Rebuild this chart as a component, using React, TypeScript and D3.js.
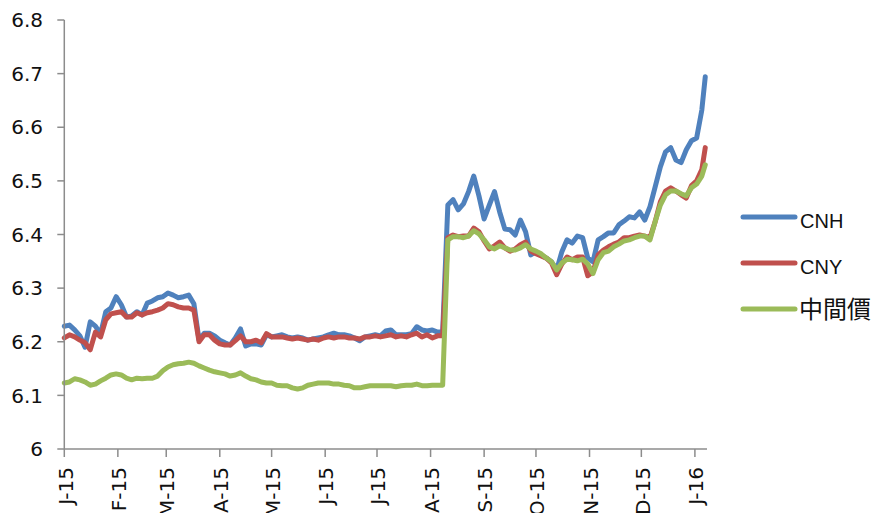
import * as d3 from 'd3';

const dates = [
  '2015-01-01', '2015-01-04', '2015-01-07', '2015-01-10', '2015-01-13', '2015-01-16', '2015-01-19', '2015-01-22',
  '2015-01-25', '2015-01-28', '2015-01-31', '2015-02-03', '2015-02-06', '2015-02-09', '2015-02-12', '2015-02-15',
  '2015-02-18', '2015-02-21', '2015-02-24', '2015-02-27', '2015-03-02', '2015-03-05', '2015-03-08', '2015-03-11',
  '2015-03-14', '2015-03-17', '2015-03-20', '2015-03-23', '2015-03-26', '2015-03-29', '2015-04-01', '2015-04-04',
  '2015-04-07', '2015-04-10', '2015-04-13', '2015-04-16', '2015-04-19', '2015-04-22', '2015-04-25', '2015-04-28',
  '2015-05-01', '2015-05-04', '2015-05-07', '2015-05-10', '2015-05-13', '2015-05-16', '2015-05-19', '2015-05-22',
  '2015-05-25', '2015-05-28', '2015-05-31', '2015-06-03', '2015-06-06', '2015-06-09', '2015-06-12', '2015-06-15',
  '2015-06-18', '2015-06-21', '2015-06-24', '2015-06-27', '2015-06-30', '2015-07-03', '2015-07-06', '2015-07-09',
  '2015-07-12', '2015-07-15', '2015-07-18', '2015-07-21', '2015-07-24', '2015-07-27', '2015-07-30', '2015-08-02',
  '2015-08-05', '2015-08-08', '2015-08-11', '2015-08-14', '2015-08-17', '2015-08-20', '2015-08-23', '2015-08-26',
  '2015-08-29', '2015-09-01', '2015-09-04', '2015-09-07', '2015-09-10', '2015-09-13', '2015-09-16', '2015-09-19',
  '2015-09-22', '2015-09-25', '2015-09-28', '2015-10-01', '2015-10-04', '2015-10-07', '2015-10-10', '2015-10-13',
  '2015-10-16', '2015-10-19', '2015-10-22', '2015-10-25', '2015-10-28', '2015-10-31', '2015-11-03', '2015-11-06',
  '2015-11-09', '2015-11-12', '2015-11-15', '2015-11-18', '2015-11-21', '2015-11-24', '2015-11-27', '2015-11-30',
  '2015-12-03', '2015-12-06', '2015-12-09', '2015-12-12', '2015-12-15', '2015-12-18', '2015-12-21', '2015-12-24',
  '2015-12-27', '2015-12-30', '2016-01-02', '2016-01-05', '2016-01-07',
];

const cnh = [
  6.229, 6.231, 6.222, 6.211, 6.190, 6.237, 6.229, 6.215, 6.256, 6.263, 6.284, 6.269, 6.246, 6.248, 6.256, 6.250,
  6.272, 6.276, 6.282, 6.284, 6.291, 6.287, 6.282, 6.284, 6.287, 6.271, 6.203, 6.216, 6.216, 6.211, 6.203, 6.198,
  6.194, 6.207, 6.224, 6.192, 6.196, 6.196, 6.194, 6.213, 6.209, 6.211, 6.213, 6.209, 6.207, 6.209, 6.207, 6.203,
  6.205, 6.207, 6.209, 6.213, 6.216, 6.213, 6.213, 6.211, 6.207, 6.202, 6.209, 6.211, 6.213, 6.211, 6.220, 6.222,
  6.213, 6.213, 6.213, 6.215, 6.228, 6.222, 6.220, 6.222, 6.218, 6.218,
  6.455, 6.465, 6.446, 6.457, 6.480, 6.509, 6.472, 6.429, 6.455, 6.480, 6.442, 6.410, 6.409, 6.399, 6.427, 6.405,
  6.362, 6.368, 6.362, 6.356, 6.349, 6.334, 6.368, 6.390, 6.384, 6.397, 6.394, 6.356, 6.349, 6.390, 6.396, 6.403,
  6.403, 6.418, 6.425, 6.433, 6.431, 6.442, 6.427, 6.452, 6.489, 6.526, 6.554, 6.562, 6.539, 6.534, 6.558, 6.575,
  6.580, 6.632, 6.694,
];

const cny = [
  6.207, 6.213, 6.209, 6.203, 6.198, 6.185, 6.218, 6.209, 6.241, 6.252, 6.254, 6.256, 6.246, 6.246, 6.254, 6.250,
  6.254, 6.256, 6.259, 6.263, 6.271, 6.269, 6.265, 6.263, 6.263, 6.259, 6.200, 6.213, 6.213, 6.203, 6.196, 6.194,
  6.194, 6.202, 6.211, 6.200, 6.200, 6.203, 6.198, 6.215, 6.209, 6.209, 6.209, 6.207, 6.205, 6.207, 6.205, 6.203,
  6.205, 6.203, 6.207, 6.209, 6.207, 6.209, 6.209, 6.207, 6.207, 6.205, 6.209, 6.209, 6.211, 6.209, 6.211, 6.213,
  6.209, 6.211, 6.209, 6.213, 6.216, 6.209, 6.213, 6.207, 6.211, 6.211,
  6.394, 6.399, 6.396, 6.397, 6.397, 6.412, 6.405, 6.388, 6.373, 6.379, 6.386, 6.375, 6.369, 6.373, 6.381, 6.386,
  6.369, 6.364, 6.360, 6.356, 6.347, 6.325, 6.345, 6.358, 6.353, 6.358, 6.358, 6.323, 6.330, 6.362, 6.371, 6.377,
  6.382, 6.386, 6.394, 6.394, 6.397, 6.399, 6.397, 6.394, 6.424, 6.461, 6.481, 6.487, 6.481, 6.474, 6.468, 6.491,
  6.500, 6.521, 6.562,
];

const fixing = [
  6.123, 6.125, 6.131, 6.129, 6.125, 6.119, 6.121, 6.127, 6.132, 6.138, 6.140, 6.138, 6.132, 6.129, 6.132, 6.131,
  6.132, 6.132, 6.136, 6.146, 6.153, 6.157, 6.159, 6.160, 6.162, 6.160, 6.155, 6.151, 6.147, 6.144, 6.142, 6.140,
  6.136, 6.138, 6.142, 6.136, 6.131, 6.129, 6.125, 6.123, 6.123, 6.119, 6.118, 6.118, 6.114, 6.112, 6.114, 6.119,
  6.121, 6.123, 6.123, 6.123, 6.121, 6.121, 6.119, 6.118, 6.114, 6.114, 6.116, 6.118, 6.118, 6.118, 6.118, 6.118,
  6.116, 6.118, 6.119, 6.119, 6.121, 6.118, 6.118, 6.119, 6.119, 6.119,
  6.390, 6.396, 6.396, 6.394, 6.397, 6.407, 6.401, 6.390, 6.377, 6.373, 6.379, 6.375, 6.371, 6.371, 6.375, 6.381,
  6.373, 6.369, 6.364, 6.356, 6.349, 6.334, 6.347, 6.354, 6.353, 6.351, 6.354, 6.345, 6.327, 6.353, 6.366, 6.369,
  6.377, 6.382, 6.388, 6.390, 6.394, 6.397, 6.397, 6.390, 6.424, 6.455, 6.474, 6.481, 6.481, 6.476, 6.472, 6.487,
  6.494, 6.509, 6.530,
];

const monthTicks = [
  '2015-01-01', '2015-02-01', '2015-03-01', '2015-04-01', '2015-05-01', '2015-06-01', '2015-07-01',
  '2015-08-01', '2015-09-01', '2015-10-01', '2015-11-01', '2015-12-01', '2016-01-01',
];
const monthLabels = ['J-15', 'F-15', 'M-15', 'A-15', 'M-15', 'J-15', 'J-15', 'A-15', 'S-15', 'O-15', 'N-15', 'D-15', 'J-16'];
const yTicks = [6, 6.1, 6.2, 6.3, 6.4, 6.5, 6.6, 6.7, 6.8];

const seriesNames = ['CNH', 'CNY', '中間價'];
const seriesColors = ['#4F81BD', '#C0504D', '#9BBB59'];

const parse = d3.timeParse('%Y-%m-%d');

export default function App() {
  const width = 875;
  const height = 513;
  const axisColor = '#8c8c8c';

  const x = d3.scaleTime()
    .domain([parse('2015-01-01'), parse('2016-01-08')])
    .range([64.3, 707]);
  const y = d3.scaleLinear().domain([6, 6.8]).range([449, 20]);

  const parsedDates = dates.map((d) => parse(d));
  const allSeries = [cnh, cny, fixing];

  const line = d3.line<number>()
    .x((_, i) => x(parsedDates[i]))
    .y((v) => y(v));

  const legendY = [217, 263, 309];

  return (
    <svg
      width={width}
      height={height}
      style={{ position: 'absolute', left: 0, top: 0, background: '#fff' }}
      fontFamily="DejaVu Sans, Verdana, sans-serif"
    >
      {/* series */}
      {allSeries.map((s, i) => (
        <path
          key={seriesNames[i]}
          d={line(s) || ''}
          fill="none"
          stroke={seriesColors[i]}
          strokeWidth={5}
          strokeLinejoin="round"
          strokeLinecap="round"
        />
      ))}

      {/* y axis */}
      <line x1={x.range()[0]} x2={x.range()[0]} y1={y(6.8)} y2={y(6)} stroke={axisColor} strokeWidth={1.5} />
      {yTicks.map((t) => (
        <g key={t}>
          <line x1={x.range()[0] - 7} x2={x.range()[0]} y1={y(t)} y2={y(t)} stroke={axisColor} strokeWidth={1.5} />
          <text x={43} y={y(t)} dy="0.36em" textAnchor="end" fontSize={20} fill="#111">
            {t === 6 ? '6' : t.toFixed(1)}
          </text>
        </g>
      ))}

      {/* x axis */}
      <line x1={x.range()[0]} x2={x.range()[1]} y1={y(6)} y2={y(6)} stroke={axisColor} strokeWidth={1.5} />
      {monthTicks.map((m, i) => {
        const px = x(parse(m));
        return (
          <g key={m}>
            <line x1={px} x2={px} y1={y(6)} y2={y(6) + 8} stroke={axisColor} strokeWidth={1.5} />
            <text
              transform={`translate(${px + 1},467) rotate(-90)`}
              dy="0.36em"
              textAnchor="end"
              fontSize={20}
              fill="#111"
            >
              {monthLabels[i]}
            </text>
          </g>
        );
      })}

      {/* legend */}
      {seriesNames.map((name, i) => (
        <g key={name}>
          <line
            x1={743}
            x2={795}
            y1={legendY[i]}
            y2={legendY[i]}
            stroke={seriesColors[i]}
            strokeWidth={5}
            strokeLinecap="round"
          />
          {i < 2 ? (
            <text x={800} y={legendY[i] + 11} fontSize={20} fontFamily="Liberation Sans, Arial, sans-serif" fill="#111">
              {name}
            </text>
          ) : (
            <text x={799} y={legendY[i] + 9} fontSize={24} fontFamily="Noto Sans CJK TC, sans-serif" fill="#111">
              {name}
            </text>
          )}
        </g>
      ))}
    </svg>
  );
}
